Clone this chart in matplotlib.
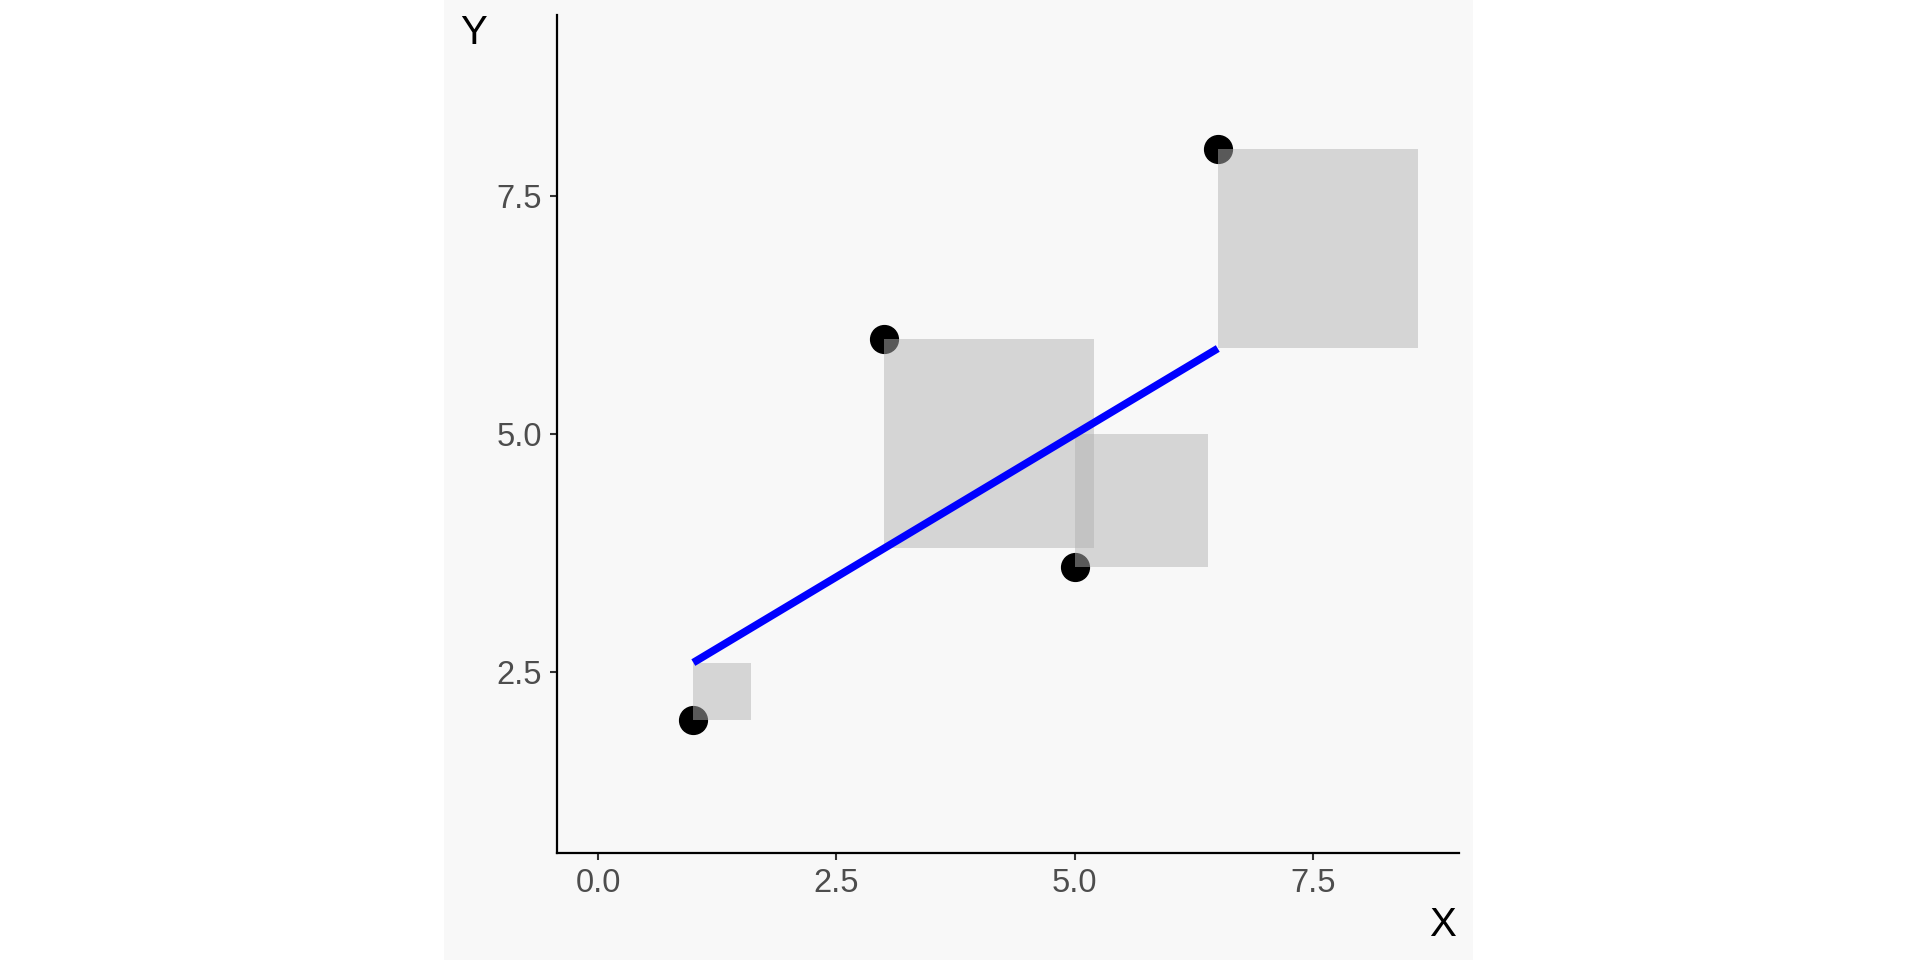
import matplotlib
matplotlib.use('Agg')
import matplotlib.pyplot as plt
from matplotlib.patches import Rectangle

plt.rcParams['font.family'] = ['Liberation Sans', 'DejaVu Sans']

# observed points
x_vals = [1, 3, 5, 6.5]
y_vals = [2, 6, 3.6, 8]

# fitted line y = intercept + slope * x
intercept = 2.0
slope = 0.6

x_ticks = [0.0, 2.5, 5.0, 7.5]
y_ticks = [2.5, 5.0, 7.5]
tick_labels_x = ['0.0', '2.5', '5.0', '7.5']
tick_labels_y = ['2.5', '5.0', '7.5']

fig = plt.figure(figsize=(19.2, 9.6), dpi=100)
fig.patch.set_facecolor('white')

# light grey plot background, not full width (kept behind the axes)
fig.patches.append(Rectangle((0.2313, 0), 0.7672 - 0.2313, 1, transform=fig.transFigure,
                             facecolor='#F8F8F8', edgecolor='none', zorder=-10))

ax = fig.add_axes([0.2901, 0.1115, 0.7599 - 0.2901, 0.984 - 0.1115])
ax.set_facecolor('#F8F8F8')

fitted = [intercept + slope * xv for xv in x_vals]

# points
ax.plot(x_vals, y_vals, 'o', color='black', markersize=20, zorder=2)

# squared residual boxes
for xv, yv, fv in zip(x_vals, y_vals, fitted):
    side = abs(yv - fv)
    ax.add_patch(Rectangle((xv, min(yv, fv)), side, side,
                           facecolor='#B3B3B3', alpha=0.5, edgecolor='none', zorder=3))

# regression line
ax.plot([x_vals[0], x_vals[-1]], [fitted[0], fitted[-1]], color='blue',
        linewidth=5.5, solid_capstyle='butt', zorder=4)

ax.set_xlim(-0.43, 9.03)
ax.set_ylim(0.6, 9.4)

ax.set_xticks(x_ticks)
ax.set_xticklabels(tick_labels_x)
ax.set_yticks(y_ticks)
ax.set_yticklabels(tick_labels_y)
ax.tick_params(axis='both', length=5, width=1.5, pad=6, labelsize=23.5, labelcolor='#4D4D4D', color='#333333')

for side in ['top', 'right']:
    ax.spines[side].set_visible(False)
for side in ['left', 'bottom']:
    ax.spines[side].set_linewidth(1.6)
    ax.spines[side].set_color('black')

fig.text(1443 / 1920, 1 - 925 / 960, 'X', fontsize=29, ha='center', va='center', color='black')
fig.text(474 / 1920, 1 - 33 / 960, 'Y', fontsize=29, ha='center', va='center', color='black')

fig.savefig('out.png', dpi=100, facecolor=fig.get_facecolor())
